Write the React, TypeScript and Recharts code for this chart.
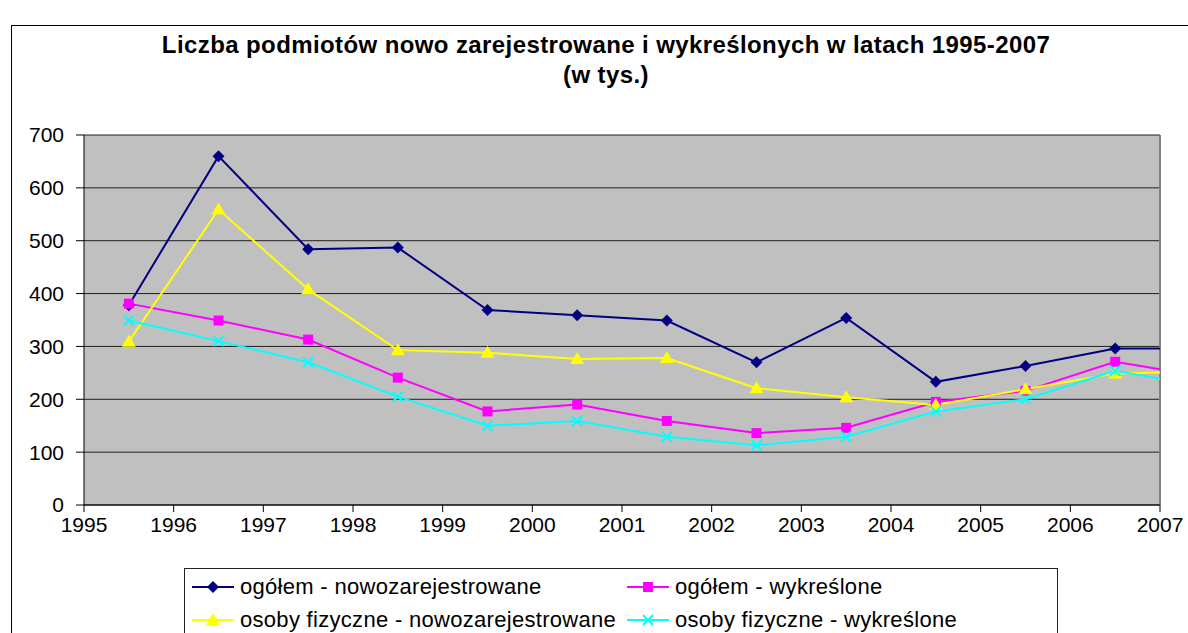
import React from "react";
import {
	CartesianGrid,
	Line,
	LineChart,
	ReferenceLine,
	XAxis,
	YAxis,
} from "recharts";

// tick labels on the x axis (years sit between ticks, at year + 0.5)
const years = [1995, 1996, 1997, 1998, 1999, 2000, 2001, 2002, 2003, 2004, 2005, 2006, 2007];
const yTicks = [0, 100, 200, 300, 400, 500, 600, 700];

// values in thousands, one per year 1995..2007
const ogolemNowe = [378, 660, 484, 487, 369, 359, 349, 270, 354, 233, 263, 296, 296];
const ogolemWykreslone = [381, 349, 313, 241, 177, 190, 159, 136, 146, 195, 216, 271, 243];
const osobyNowe = [309, 559, 408, 293, 288, 276, 278, 221, 204, 189, 219, 249, 252];
const osobyWykreslone = [349, 310, 270, 205, 150, 159, 129, 113, 129, 177, 200, 254, 224];

const data = years.map((y, i) => ({
	x: y + 0.5,
	ogolemNowe: ogolemNowe[i],
	ogolemWykreslone: ogolemWykreslone[i],
	osobyNowe: osobyNowe[i],
	osobyWykreslone: osobyWykreslone[i],
}));

const FONT = '"Liberation Sans", Arial, sans-serif';

type Shape = "diamond" | "square" | "triangle" | "cross";

function Marker({ cx, cy, shape, color }: { cx: number; cy: number; shape: Shape; color: string }) {
	if (shape === "diamond") {
		return <path d={`M${cx},${cy - 6}L${cx + 6},${cy}L${cx},${cy + 6}L${cx - 6},${cy}Z`} fill={color} />;
	}
	if (shape === "square") {
		return <rect x={cx - 5} y={cy - 5} width={10} height={10} fill={color} />;
	}
	if (shape === "triangle") {
		return <path d={`M${cx},${cy - 7}L${cx + 7},${cy + 5}L${cx - 7},${cy + 5}Z`} fill={color} />;
	}
	return (
		<path
			d={`M${cx - 5},${cy - 5}L${cx + 5},${cy + 5}M${cx + 5},${cy - 5}L${cx - 5},${cy + 5}`}
			stroke={color}
			strokeWidth={2}
			fill="none"
		/>
	);
}

const series: { key: string; name: string; color: string; shape: Shape }[] = [
	{ key: "ogolemNowe", name: "ogółem - nowozarejestrowane", color: "#000080", shape: "diamond" },
	{ key: "ogolemWykreslone", name: "ogółem - wykreślone", color: "#FF00FF", shape: "square" },
	{ key: "osobyNowe", name: "osoby fizyczne - nowozarejestrowane", color: "#FFFF00", shape: "triangle" },
	{ key: "osobyWykreslone", name: "osoby fizyczne - wykreślone", color: "#00FFFF", shape: "cross" },
];

function makeDot(shape: Shape, color: string) {
	// eslint-disable-next-line @typescript-eslint/no-explicit-any
	return (props: any) => {
		const { cx, cy, index } = props;
		if (cx == null || cy == null) return <g key={`d-${index}`} />;
		return (
			<g key={`d-${index}`}>
				<Marker cx={cx} cy={cy} shape={shape} color={color} />
			</g>
		);
	};
}

export default function App() {
	return (
		<div
			style={{
				position: "fixed",
				left: 0,
				top: 0,
				width: 1188,
				height: 633,
				overflow: "hidden",
				background: "#fff",
				fontFamily: FONT,
			}}
		>
			<div
				style={{
					position: "absolute",
					left: 11,
					top: 25,
					width: 1300,
					height: 700,
					border: "1px solid #000",
				}}
			/>
			<div
				style={{
					position: "absolute",
					left: 0,
					top: 30,
					width: 1212,
					textAlign: "center",
					fontWeight: "bold",
					fontSize: 24,
					letterSpacing: 0.4,
					lineHeight: "30px",
					color: "#000",
				}}
			>
				<div>Liczba podmiotów nowo zarejestrowane i wykreślonych w latach 1995-2007</div>
				<div>(w tys.)</div>
			</div>
			<LineChart
				width={1188}
				height={633}
				data={data}
				margin={{ top: 135, right: 28, left: 0, bottom: 0 }}
				style={{ position: "absolute", left: 0, top: 0 }}
			>
				<CartesianGrid vertical={false} fill="#C0C0C0" stroke="#000" strokeOpacity={0.85} />
				<XAxis
					dataKey="x"
					type="number"
					domain={[1995, 2007]}
					ticks={years}
					allowDataOverflow
					interval={0}
					height={128}
					tickSize={7}
					tickMargin={5}
					stroke="#000"
					tick={{ fontSize: 21, fill: "#000", fontFamily: FONT }}
				/>
				<YAxis
					domain={[0, 700]}
					ticks={yTicks}
					width={84}
					tickSize={8}
					tickMargin={12}
					stroke="#000"
					tick={{ fontSize: 21, fill: "#000", fontFamily: FONT }}
				/>
				<ReferenceLine x={2007} stroke="#808080" strokeWidth={2} />
				{series.map((s) => (
					<Line
						key={s.key}
						dataKey={s.key}
						name={s.name}
						stroke={s.color}
						strokeWidth={2}
						dot={makeDot(s.shape, s.color)}
						activeDot={false}
						isAnimationActive={false}
					/>
				))}
			</LineChart>
			<div
				style={{
					position: "absolute",
					left: 184,
					top: 568,
					width: 872,
					height: 120,
					border: "1px solid #222",
					background: "#fff",
				}}
			>
				{series.map((s, i) => (
					<div
						key={s.key}
						style={{
							position: "absolute",
							left: i % 2 === 0 ? 7 : 442,
							top: i < 2 ? 4 : 37,
							display: "flex",
							alignItems: "center",
							height: 28,
							fontSize: 22,
							letterSpacing: 0.3,
							whiteSpace: "nowrap",
						}}
					>
						<svg width={42} height={20} style={{ marginRight: 6 }}>
							<line x1={0} y1={10} x2={42} y2={10} stroke={s.color} strokeWidth={2} />
							<Marker cx={21} cy={10} shape={s.shape} color={s.color} />
						</svg>
						<span>{s.name}</span>
					</div>
				))}
			</div>
		</div>
	);
}
